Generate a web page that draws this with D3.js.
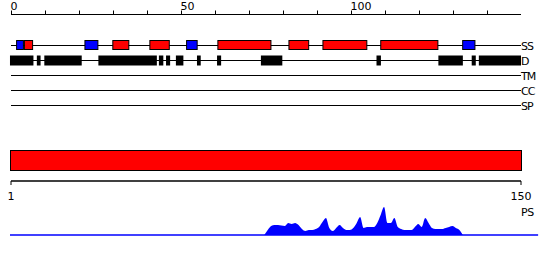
<!DOCTYPE html>
<html><head><meta charset="utf-8">
<script src="https://cdn.jsdelivr.net/npm/d3@7"></script>
<style>body{margin:0;background:#fff}svg{display:block}text{font-family:"DejaVu Sans",sans-serif;}</style>
</head><body>
<svg id="c" width="550" height="260"></svg>
<script>
// ---- data ----
const topTicks = [0,10,20,30,40,50,60,70,80,90,100,110,120,130,140];
const topTickLabels = [0,50,100];
const trackNames = ["SS","D","TM","CC","SP"];
// secondary structure: [start, end, type]  (H = helix red, E = strand blue)
const ssStart = [1.5, 3.8, 21.6, 29.8, 40.7, 51.5, 60.7, 81.6, 91.6, 108.6, 132.7];
const ssEnd   = [3.8, 6.5, 25.7, 34.8, 46.7, 54.9, 76.6, 87.7, 104.8, 125.7, 136.6];
const ssType  = ["E","H","E","H","H","E","H","H","H","H","E"];
// disorder segments
const dStart = [-0.3, 7.6, 9.8, 25.7, 43.5, 45.6, 48.5, 54.7, 60.6, 73.5, 107.5, 125.7, 135.5, 137.6];
const dEnd   = [6.6, 8.7, 20.8, 42.9, 44.8, 46.8, 50.7, 55.8, 61.8, 79.8, 108.8, 132.9, 136.7, 150];
// domain bar
const domainStart = 1, domainEnd = 150;
const bottomTickLabels = [1,150];
// PS profile (residue 75..133)
const psResidues = d3.range(75,134);
const psValues = [0,5,9,10,10,9.5,9,12,11,12,10,6,4,5,5,6,8,13,17,7,4,7,10,7,5,5,7,12,18,7,8,8,8,12,20,28,12,12,17,8,6,5,5,5,8,11,8,17,12,7,6,6,6,7,8,9,7,5,0];

// ---- drawing ----
const svg = d3.select("#c");
const x = d3.scaleLinear().domain([0,150]).range([11,521]);
const xb = d3.scaleLinear().domain([1,150]).range([11,521]);
const colors = {H:"#ff0000", E:"#0000ff"};

// top axis
const gTop = svg.append("g").attr("transform","translate(0,14.5)");
gTop.append("line").attr("x1",x(0)).attr("x2",x(150)).attr("stroke","#000");
gTop.selectAll("line.t").data(topTicks).join("line").attr("class","t")
  .attr("x1",d=>x(d)+0.5).attr("x2",d=>x(d)+0.5).attr("y1",0).attr("y2",-4).attr("stroke","#000");
gTop.selectAll("text").data(topTickLabels).join("text")
  .attr("x",d=>x(d)-0.5).attr("y",-4.5).attr("font-size",11).attr("fill","#000").text(d=>d);

// track lines
const rowY = d3.scaleOrdinal().domain(trackNames).range([45.5,60.5,75.5,90.5,105.5]);
svg.selectAll("line.track").data(trackNames).join("line").attr("class","track")
  .attr("x1",x(0)).attr("x2",x(150)).attr("y1",d=>rowY(d)).attr("y2",d=>rowY(d)).attr("stroke","#000");
svg.selectAll("text.track").data(trackNames).join("text").attr("class","track")
  .attr("x",521).attr("y",d=>rowY(d)+4).attr("font-size",11).attr("letter-spacing",-1).text(d=>d);

// disorder
svg.selectAll("rect.d").data(dStart.map((s,i)=>[s,dEnd[i]])).join("rect").attr("class","d")
  .attr("x",d=>x(d[0])).attr("width",d=>x(d[1])-x(d[0])).attr("y",55.5).attr("height",10).attr("fill","#000");

// SS
svg.selectAll("rect.ss").data(ssStart.map((s,i)=>[s,ssEnd[i],ssType[i]])).join("rect").attr("class","ss")
  .attr("x",d=>x(d[0])+0.5).attr("width",d=>x(d[1])-x(d[0])-1).attr("y",40.5).attr("height",9)
  .attr("fill",d=>colors[d[2]]).attr("stroke","#000");

// domain bar
svg.append("rect").attr("x",xb(domainStart)-0.5).attr("width",xb(domainEnd)-xb(domainStart)+1)
  .attr("y",150.5).attr("height",20).attr("fill","#ff0000").attr("stroke","#000");

// bottom axis
const gB = svg.append("g").attr("transform","translate(0,181)");
gB.append("line").attr("x1",xb(1)).attr("x2",xb(150)).attr("stroke","#000").attr("stroke-width",1.3);
gB.selectAll("line.t").data(bottomTickLabels).join("line").attr("class","t")
  .attr("x1",d=>xb(d)).attr("x2",d=>xb(d)).attr("y1",0).attr("y2",4).attr("stroke","#000");
gB.selectAll("text").data(bottomTickLabels).join("text")
  .attr("x",d=>xb(d)).attr("y",19).attr("text-anchor","middle").attr("font-size",11).text(d=>d);
svg.append("text").attr("x",521).attr("y",215.5).attr("font-size",11).attr("letter-spacing",-0.5).text("PS");

// PS area
const yPs = d3.scaleLinear().domain([0,30]).range([235,205]);
const area = d3.area().x((d,i)=>xb(psResidues[i])).y0(yPs(0)).y1(d=>yPs(d)).curve(d3.curveMonotoneX);
svg.append("path").datum(psValues).attr("d",area).attr("fill","#0000ff");
svg.append("line").attr("x1",xb(1)-1).attr("x2",xb(155)).attr("y1",235).attr("y2",235)
  .attr("stroke","#0000ff").attr("stroke-width",1.5);
</script>
</body></html>
